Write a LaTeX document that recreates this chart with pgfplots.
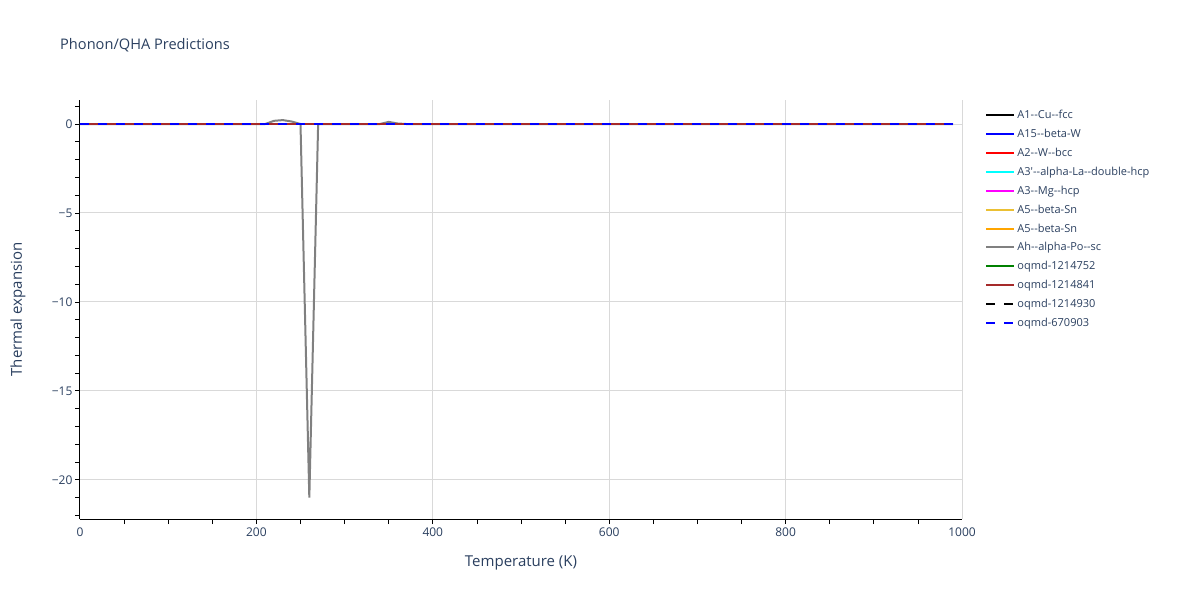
\documentclass[border=0pt]{standalone}
\usepackage{pgfplots}
\pgfplotsset{compat=1.18}
\usepackage{fontspec}
\setmainfont{Open Sans}[Ligatures=TeXOff]
\definecolor{txt}{HTML}{2A3F5F}
\definecolor{gridc}{HTML}{D9D9D9}
\definecolor{ccyan}{HTML}{00FFFF}
\definecolor{cmag}{HTML}{FF00FF}
\definecolor{cgold}{HTML}{EBC034}
\definecolor{corange}{HTML}{FFA500}
\definecolor{cgray}{HTML}{808080}
\definecolor{cgreen}{HTML}{008000}
\definecolor{cbrown}{HTML}{A52A2A}
\begin{document}
\begin{tikzpicture}
\path (0pt,0pt) rectangle (1200pt,600pt);
\node[anchor=west,inner sep=0pt,text=txt,font=\fontsize{14.6}{17}\selectfont] at (60pt,555pt) {Phonon/QHA Predictions};
\begin{axis}[
  at={(80pt,81pt)}, anchor=south west,
  scale only axis, width=882pt, height=419pt,
  xmin=0, xmax=1000, ymin=-22.2, ymax=1.35,
  axis x line*=bottom, axis y line*=left,
  axis line style={black, line width=1pt},
  xtick={0,200,400,600,800,1000},
  xticklabels={0,200,400,600,800,1000},
  ytick={-20,-15,-10,-5,0},
  yticklabels={−20,−15,−10,−5,0},
  minor xtick={50,100,...,950},
  minor ytick={-22,-21,...,1},
  tick align=outside,
  major tick length=0pt, minor tick length=5pt,
  tick style={black, line width=0.8pt},
  grid=major,
  major grid style={gridc, line width=1pt},
  ticklabel style={text=txt, font=\fontsize{12}{14}\selectfont},
  xticklabel style={yshift=-5pt},
  yticklabel style={xshift=-4pt},
  /pgf/number format/assume math mode=true,
  xlabel={Temperature (K)}, ylabel={Thermal expansion},
  label style={text=txt, font=\fontsize{15}{17}\selectfont},
  xlabel style={at={(axis description cs:0.5,-0.105)}, anchor=center},
  ylabel style={at={(axis description cs:-0.0703,0.5)}, anchor=center},
  legend style={at={(1.023,0.985)}, anchor=north west, draw=none, fill=none,
    font=\fontsize{11}{13}\selectfont, text=txt, row sep=5.0pt,
    cells={anchor=west}},
  legend image code/.code={\draw[#1, line width=2pt] (0pt,0pt) -- (28pt,0pt);},
  every axis plot/.append style={line width=2pt},
]
\addplot[black] coordinates {(0,0) (990,0)};
\addlegendentry{A1--Cu--fcc}
\addplot[blue] coordinates {(0,0) (990,0)};
\addlegendentry{A15--beta-W}
\addplot[red] coordinates {(0,0) (990,0)};
\addlegendentry{A2--W--bcc}
\addplot[ccyan] coordinates {(0,0) (990,0)};
\addlegendentry{A3\textquotesingle--alpha-La--double-hcp}
\addplot[cmag] coordinates {(0,0) (990,0)};
\addlegendentry{A3--Mg--hcp}
\addplot[cgold] coordinates {(0,0) (990,0)};
\addlegendentry{A5--beta-Sn}
\addplot[corange] coordinates {(0,0) (990,0)};
\addlegendentry{A5--beta-Sn}
\addplot[cgray] coordinates {(0,0) (200,0) (210,0) (220,0.18) (230,0.22) (240,0.14) (250,0) (260,-21) (270,0) (340,0) (350,0.12) (360,0.03) (370,0) (990,0)};
\addlegendentry{Ah--alpha-Po--sc}
\addplot[cgreen] coordinates {(0,0) (990,0)};
\addlegendentry{oqmd-1214752}
\addplot[cbrown] coordinates {(0,0) (990,0)};
\addlegendentry{oqmd-1214841}
\addplot[black, dash pattern=on 9pt off 9pt] coordinates {(0,0) (990,0)};
\addlegendentry{oqmd-1214930}
\addplot[blue, dash pattern=on 9pt off 9pt] coordinates {(0,0) (990,0)};
\addlegendentry{oqmd-670903}
\end{axis}
\end{tikzpicture}
\end{document}
